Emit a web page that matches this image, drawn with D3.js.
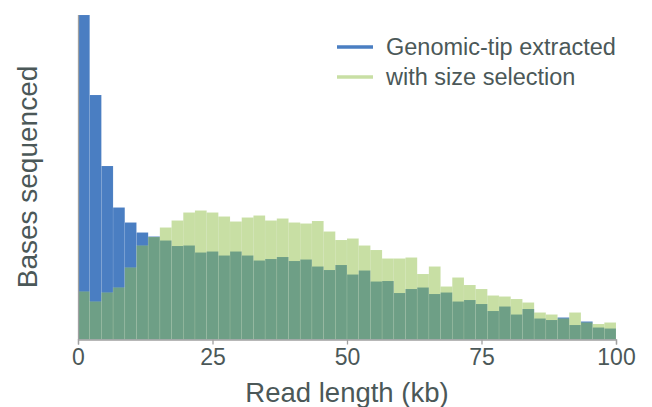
<!DOCTYPE html>
<html>
<head>
<meta charset="utf-8">
<script src="https://cdn.jsdelivr.net/npm/d3@7"></script>
<style>
  body { margin: 0; background: #fff; }
  text { font-family: "Liberation Sans", Arial, sans-serif; fill: #4b5858; }
</style>
</head>
<body>
<div id="chart"></div>
<script>
// read-length histogram, 46 bins over 0-100 kb (relative bases sequenced)
const binCount = 46;
const xTicks = [0, 25, 50, 75, 100];
const seriesNames = ['Genomic-tip extracted', 'with size selection'];

const genomicTip = [324.5, 244.5, 173.5, 132, 117, 107, 103, 99, 93.5, 94,
  87, 88, 84, 88, 84, 79, 80.5, 82.5, 78.5, 80,
  73, 69.5, 74.5, 65, 69, 58, 58.5, 46.5, 50.5, 52,
  45.5, 47, 38, 39.5, 35.5, 28.5, 33, 25, 30.5, 21,
  19.5, 22, 14.5, 18, 12, 11];

const sizeSelected = [48, 38, 47, 52, 72, 94, 102.5, 112, 119, 127,
  129, 127, 123, 118, 122, 124, 119, 121, 117, 116,
  118.5, 108, 99.5, 101, 94, 89.5, 81, 81, 82, 65.5,
  73, 53, 62, 54.5, 50.5, 44, 43, 40.5, 37, 27,
  25, 21, 27, 17, 15.5, 17];

const width = 652, height = 407;
const margin = {top: 14.5, right: 36, bottom: 67.5, left: 78};

const svg = d3.select('#chart')
  .append('svg')
  .attr('width', width)
  .attr('height', height);

const x = d3.scaleLinear()
  .domain([0, 100])
  .range([margin.left, width - margin.right]);

const y = d3.scaleLinear()
  .domain([0, 325])
  .range([height - margin.bottom, margin.top]);

const binW = 100 / binCount;

function drawBars(values, color, opacity){
  svg.append('g')
    .selectAll('rect')
    .data(values)
    .enter()
    .append('rect')
    .attr('x', (d, i) => x(i * binW))
    .attr('width', (d, i) => x((i + 1) * binW) - x(i * binW))
    .attr('y', d => y(d))
    .attr('height', d => y(0) - y(d))
    .attr('fill', color)
    .attr('fill-opacity', opacity)
    .attr('stroke', '#fff')
    .attr('stroke-opacity', 0.12)
    .attr('stroke-width', 0.6);
}

drawBars(genomicTip, '#4a7ec2', 1);
drawBars(sizeSelected, '#91bf49', 0.5);

// axes
const xAxis = svg.append('g')
  .attr('transform', `translate(0, ${y(0)})`)
  .call(d3.axisBottom(x).tickValues(xTicks).tickSize(5).tickPadding(4));
xAxis.selectAll('text').attr('font-size', 23);

const yAxis = svg.append('g')
  .attr('transform', `translate(${margin.left}, 0)`)
  .call(d3.axisLeft(y).tickValues([]).tickSizeOuter(0));

svg.selectAll('.domain, .tick line').attr('stroke', '#a0a0a0').attr('stroke-width', 1.3);

svg.append('text')
  .attr('x', (x(0) + x(100)) / 2)
  .attr('y', 402)
  .attr('text-anchor', 'middle')
  .attr('font-size', 27.5)
  .text('Read length (kb)');

svg.append('text')
  .attr('transform', `translate(37, ${(y(0) + y(325)) / 2}) rotate(-90)`)
  .attr('text-anchor', 'middle')
  .attr('font-size', 28)
  .text('Bases sequenced');

// legend
const legend = svg.append('g').attr('transform', 'translate(337, 47)');
const legendColors = ['#4a7ec2', '#c8dfa4'];
seriesNames.forEach((name, i) => {
  legend.append('line')
    .attr('x1', 0).attr('x2', 36)
    .attr('y1', i * 30).attr('y2', i * 30)
    .attr('stroke', legendColors[i])
    .attr('stroke-width', 3.5);
  legend.append('text')
    .attr('x', 49)
    .attr('y', i * 30)
    .attr('dy', '0.35em')
    .attr('font-size', 23.5)
    .text(name);
});
</script>
</body>
</html>
